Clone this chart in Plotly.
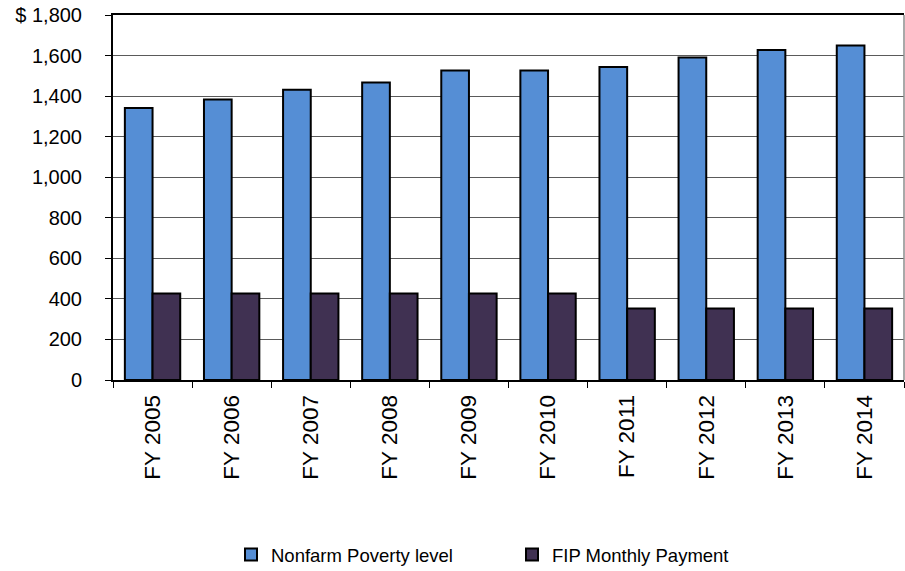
import plotly.graph_objects as go

categories = ["FY 2005", "FY 2006", "FY 2007", "FY 2008", "FY 2009",
              "FY 2010", "FY 2011", "FY 2012", "FY 2013", "FY 2014"]
nonfarm_poverty = [1341, 1383, 1431, 1467, 1526, 1526, 1544, 1591, 1628, 1649]
fip_payment = [426, 426, 426, 426, 426, 426, 352, 352, 352, 352]
y_tick_vals = [0, 200, 400, 600, 800, 1000, 1200, 1400, 1600, 1800]
y_tick_text = ["0", "200", "400", "600", "800", "1,000", "1,200", "1,400", "1,600", "$ 1,800"]

FONT = "Liberation Sans, Arial, sans-serif"

W, H = 905, 571

fig = go.Figure()
fig.add_trace(go.Bar(
    x=categories, y=nonfarm_poverty, name="Nonfarm Poverty level",
    marker=dict(color="#558ED5", line=dict(color="#000000", width=2)),
))
fig.add_trace(go.Bar(
    x=categories, y=fip_payment, name="FIP Monthly Payment",
    marker=dict(color="#403152", line=dict(color="#000000", width=2)),
))

fig.update_layout(
    width=W, height=H,
    margin=dict(l=113, r=1, t=15, b=191, autoexpand=False),
    paper_bgcolor="white", plot_bgcolor="white",
    barmode="group", bargap=0.3, bargroupgap=0,
    font=dict(family=FONT, color="#000000", size=19),
    showlegend=True,
    legend=dict(
        orientation="h", xref="container", yref="container",
        x=231 / W, y=16 / H, xanchor="left", yanchor="middle",
        font=dict(size=18.5, family=FONT),
        entrywidth=236, entrywidthmode="pixels",
        itemwidth=30, traceorder="normal",
    ),
    xaxis=dict(
        type="category", tickangle=-90, tickson="boundaries",
        ticks="outside", ticklen=6, tickcolor="#000000", tickwidth=1,
        showline=True, linecolor="#000000", linewidth=2, mirror=True,
        showgrid=False, tickfont=dict(size=22.5, family=FONT),
        ticklabelstandoff=4,
    ),
    yaxis=dict(
        range=[0, 1800], tickvals=y_tick_vals, ticktext=y_tick_text,
        ticks="outside", ticklen=6, tickcolor="#000000", tickwidth=1,
        showline=True, linecolor="#000000", linewidth=2,
        showgrid=True, gridcolor="#5a5a5a", gridwidth=1,
        zeroline=False, tickfont=dict(size=20, family=FONT),
        ticklabelstandoff=19, ticklabeloverflow="allow",
    ),
)
fig.add_shape(type="line", xref="paper", yref="paper", x0=1, x1=1, y0=0, y1=1,
              line=dict(color="#8c8c8c", width=1.5))

# Remove the browser's default 8px body margin so the figure fills the window.
fig.write_html("out.html", config={"displayModeBar": False},
               post_script="document.body.style.margin='0';")
